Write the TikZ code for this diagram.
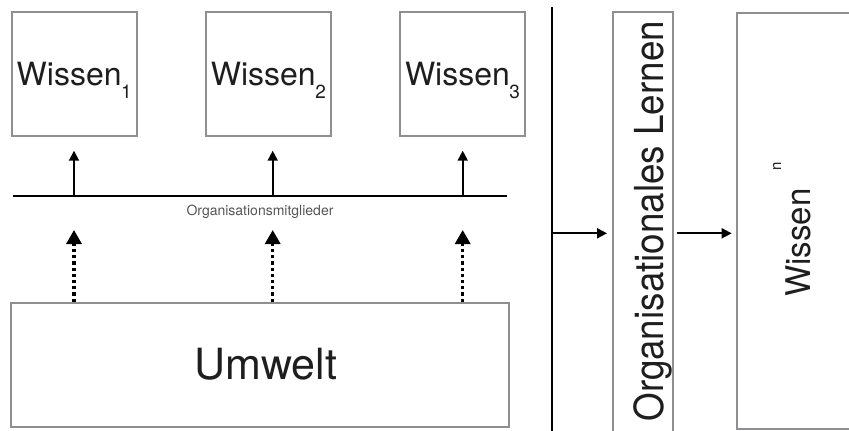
\documentclass[tikz,border=0pt]{standalone}
\usepackage{fontspec}
\setmainfont{TeX Gyre Heros}
\usepackage{graphicx}
\usetikzlibrary{arrows.meta}
\definecolor{boxgray}{RGB}{142,142,147}
\definecolor{txt}{RGB}{30,30,30}
\definecolor{lbl}{RGB}{85,85,85}
\begin{document}
\begin{tikzpicture}[x=1pt,y=-1pt,
  box/.style={draw=boxgray, line width=1.8pt, inner sep=0pt, text=txt},
  plain/.style={inner sep=0pt, text=txt},
  conn/.style={line width=1.8pt, -{Triangle[length=10pt,width=10pt]}},
  dotconn/.style={line width=3.2pt, dash pattern=on 3.2pt off 3pt, -{Triangle[length=14pt,width=15pt]}},
  rulel/.style={line width=1.8pt},
  big/.style={font=\fontsize{32}{32}\selectfont},
  subs/.style={},
]
\useasboundingbox (0,0) rectangle (849,431);

% knowledge boxes
\node[box, big, minimum width=125pt, minimum height=123.7pt] (w1) at (74.2,74.15)
  {Wissen\hspace{-0.5pt}\raisebox{-12.5pt}[0pt][0pt]{\fontsize{19}{19}\selectfont 1}};
\node[box, big, minimum width=125.3pt, minimum height=123.7pt] (w2) at (268.35,74.15)
  {Wissen\hspace{-0.5pt}\raisebox{-12.5pt}[0pt][0pt]{\fontsize{19}{19}\selectfont 2}};
\node[box, big, minimum width=125pt, minimum height=123.7pt] (w3) at (462.5,74.15)
  {Wissen\hspace{-0.5pt}\raisebox{-12.5pt}[0pt][0pt]{\fontsize{19}{19}\selectfont 3}};

% members line
\coordinate (ml) at (13.3,196);
\coordinate (mr) at (506.7,196);
\draw[rulel] (ml) -- (mr);
\node[inner sep=0pt, text=lbl, font=\fontsize{14}{14}\selectfont, anchor=base] (om) at (260,215.5) {Organisationsmitglieder};

\coordinate (f1) at (74,196);
\coordinate (f2) at (272.7,196);
\coordinate (f3) at (462.7,196);
\draw[conn, shorten >=13.8pt] (f1) -- (f1 |- w1.south);
\draw[conn, shorten >=13.8pt] (f2) -- (f2 |- w2.south);
\draw[conn, shorten >=13.8pt] (f3) -- (f3 |- w3.south);

% environment
\node[box, font=\fontsize{43}{43}\selectfont, minimum width=498pt, minimum height=124pt] (u) at (260,364.7)
  {\hspace*{12pt}Umwelt};
\draw[dotconn, shorten >=34pt] (u.north -| f1) -- (f1);
\draw[dotconn, shorten >=34pt] (u.north -| f2) -- (f2);
\draw[dotconn, shorten >=34pt] (u.north -| f3) -- (f3);

% separator
\coordinate (vt) at (551.7,7.3);
\coordinate (vb) at (551.7,431);
\draw[rulel] (vt) -- (vb);
\coordinate (a1) at (551.7,233.3);

% organisational learning
\node[box, minimum width=59.4pt, minimum height=421.7pt] (org) at (643,223.15) {};
\node[plain, rotate=90, anchor=base west, font=\fontsize{40}{40}\selectfont] (orgtxt) at (663,421.7)
  {\scalebox{0.92}[1]{Organisationales Lernen}};

% Wissen^n
\node[box, minimum width=125.4pt, minimum height=416pt] (wn) at (800,221.3) {};
\node[plain, rotate=90, anchor=base west, font=\fontsize{34}{34}\selectfont] (wntxt) at (810,296.7)
  {\scalebox{0.97}[1]{Wissen}\hspace{18pt}\raisebox{29pt}{\fontsize{15}{15}\selectfont n}};

\draw[conn, shorten >=5.4pt] (a1) -- (a1 -| org.west);
\draw[conn, shorten <=3.1pt, shorten >=4.7pt] (org.east |- a1) -- (wn.west |- a1);
\end{tikzpicture}
\end{document}
